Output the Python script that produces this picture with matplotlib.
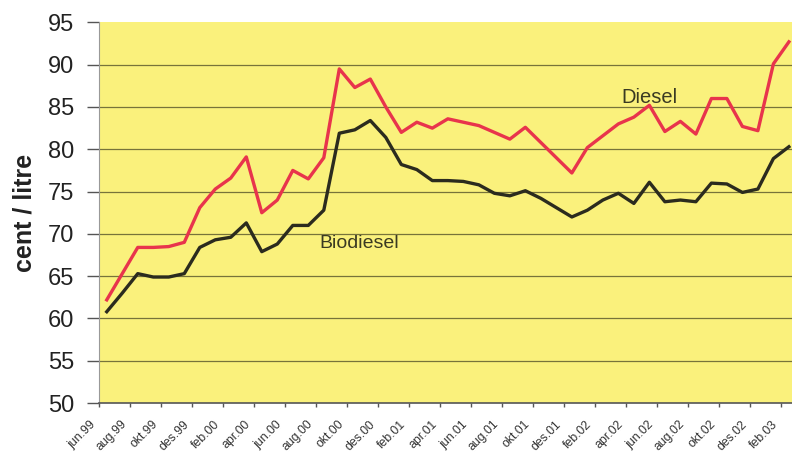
import numpy as np
import matplotlib.pyplot as plt
from matplotlib.transforms import ScaledTranslation

plt.rcParams['font.family'] = ['Liberation Sans', 'DejaVu Sans']

# monthly prices jun.99 - feb.03
months = ["jun.99", "jul.99", "aug.99", "sep.99", "okt.99", "nov.99", "des.99",
          "jan.00", "feb.00", "mar.00", "apr.00", "mai.00", "jun.00", "jul.00",
          "aug.00", "sep.00", "okt.00", "nov.00", "des.00", "jan.01", "feb.01",
          "mar.01", "apr.01", "mai.01", "jun.01", "jul.01", "aug.01", "sep.01",
          "okt.01", "nov.01", "des.01", "jan.02", "feb.02", "mar.02", "apr.02",
          "mai.02", "jun.02", "jul.02", "aug.02", "sep.02", "okt.02", "nov.02",
          "des.02", "jan.03", "feb.03"]

diesel = [62.2, 65.3, 68.4, 68.4, 68.5, 69.0, 73.1, 75.3, 76.6, 79.1,
          72.5, 74.0, 77.5, 76.5, 79.0, 89.5, 87.3, 88.3, 85.0, 82.0,
          83.2, 82.5, 83.6, 83.2, 82.8, 82.0, 81.2, 82.6, 80.8, 79.0,
          77.2, 80.2, 81.6, 83.0, 83.8, 85.2, 82.1, 83.3, 81.8, 86.0,
          86.0, 82.7, 82.2, 90.1, 92.7]

biodiesel = [60.8, 63.0, 65.3, 64.9, 64.9, 65.3, 68.4, 69.3, 69.6, 71.3,
             67.9, 68.8, 71.0, 71.0, 72.8, 81.9, 82.3, 83.4, 81.4, 78.2,
             77.6, 76.3, 76.3, 76.2, 75.8, 74.8, 74.5, 75.1, 74.2, 73.1,
             72.0, 72.8, 74.0, 74.8, 73.6, 76.1, 73.8, 74.0, 73.8, 76.0,
             75.9, 74.9, 75.3, 78.9, 80.3]

x = np.arange(len(months))

fig = plt.figure(figsize=(7.92, 4.57), dpi=100)
ax = fig.add_axes([0.125, 0.118, 0.875, 0.833])
ax.set_facecolor('#FAF17C')

for yv in range(55, 95, 5):
    ax.axhline(yv, color='#77733A', lw=0.9, zorder=1)

ax.plot(x, diesel, color='#E8344C', lw=2.4, zorder=3)
ax.plot(x, biodiesel, color='#2B2B1E', lw=2.4, zorder=3)

ax.text(35.0, 86.1, "Diesel", fontsize=14.5, color='#3A3A22', ha='center', va='center', zorder=4)
ax.text(16.3, 68.9, "Biodiesel", fontsize=14, color='#3A3A22', ha='center', va='center', zorder=4)

ax.set_xlim(-0.5, 44.2)
ax.set_ylim(50, 95)
ax.set_yticks(range(50, 96, 5))
ax.tick_params(axis='y', labelsize=17, length=9, width=1, color='#555555', pad=9, labelcolor='#222222')

ticks = x[::2] - 0.5
ax.set_xticks(ticks)
ax.set_xticklabels(months[::2], rotation=45, ha='right', va='center',
                   rotation_mode='anchor', fontsize=8.8, color='#333333')
ax.tick_params(axis='x', length=3, width=1, color='#555555', pad=11)
off = ScaledTranslation(-5 / 100, 0, fig.dpi_scale_trans)
for lbl in ax.get_xticklabels():
    lbl.set_transform(lbl.get_transform() + off)

ax.set_ylabel("cent / litre", fontsize=18, fontweight='bold', color='#222222', labelpad=8)

for s in ['top', 'right']:
    ax.spines[s].set_visible(False)
ax.spines['left'].set_color('#999999')
ax.spines['bottom'].set_color('#555555')
ax.spines['bottom'].set_linewidth(1.2)

fig.savefig('out.png', dpi=100)
